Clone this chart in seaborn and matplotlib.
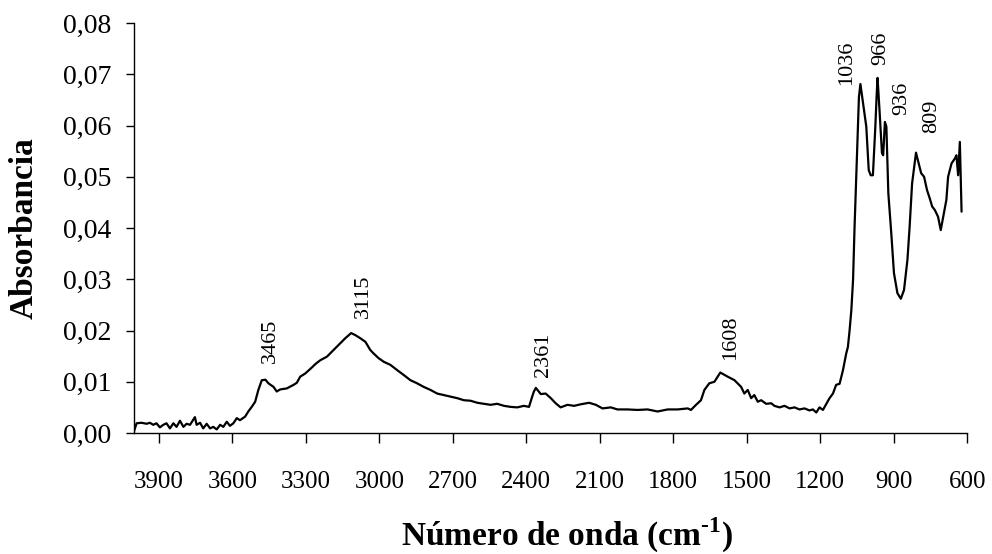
import matplotlib
matplotlib.use("Agg")
import matplotlib.pyplot as plt
from matplotlib.ticker import FuncFormatter, MultipleLocator
import seaborn as sns
import pandas as pd

# FTIR spectrum: wavenumber (cm-1) and absorbance
wavenumber = [
    4002, 3991, 3971, 3950, 3937, 3923, 3910, 3896, 3882, 3869, 3855, 3841,
    3828, 3814, 3800, 3787, 3773, 3753, 3746, 3732, 3719, 3705, 3691, 3678,
    3664, 3650, 3637, 3623, 3610, 3596, 3582, 3569, 3548, 3535, 3521, 3507,
    3494, 3480, 3465, 3453, 3432, 3419, 3405, 3378, 3350, 3337, 3323, 3303,
    3282, 3260, 3241, 3214, 3187, 3160, 3139, 3115, 3098, 3078, 3057, 3037,
    3023, 3003, 2982, 2955, 2928, 2900, 2873, 2846, 2819, 2791, 2764, 2737,
    2710, 2682, 2655, 2628, 2600, 2573, 2546, 2519, 2491, 2464, 2437, 2410,
    2389, 2376, 2369, 2361, 2341, 2321, 2300, 2280, 2260, 2232, 2205, 2178,
    2144, 2116, 2089, 2055, 2028, 1987, 1946, 1905, 1864, 1823, 1782, 1741,
    1728, 1707, 1687, 1673, 1653, 1632, 1608, 1578, 1550, 1523, 1510, 1496,
    1482, 1469, 1455, 1441, 1421, 1400, 1387, 1366, 1346, 1325, 1305, 1285,
    1264, 1244, 1230, 1216, 1203, 1189, 1175, 1162, 1148, 1135, 1121, 1107,
    1094, 1087, 1080, 1073, 1066, 1060, 1046, 1042, 1036, 1027, 1012, 1002,
    994, 985, 975, 970, 966, 958, 948, 943, 936, 930, 922, 910, 899, 885,
    871, 858, 844, 835, 825, 818, 809, 798, 788, 776, 764, 753, 743, 732,
    719, 708, 698, 685, 678, 664, 650, 644, 637, 630, 623,
]
absorbance = [
    0.0003, 0.0019, 0.0020, 0.0018, 0.0020, 0.0016, 0.0019, 0.0011, 0.0016,
    0.0019, 0.0009, 0.0019, 0.0012, 0.0024, 0.0012, 0.0018, 0.0016, 0.0031,
    0.0016, 0.0020, 0.0009, 0.0018, 0.0009, 0.0012, 0.0007, 0.0016, 0.0012,
    0.0022, 0.0014, 0.0019, 0.0029, 0.0025, 0.0032, 0.0042, 0.0051, 0.0061,
    0.0084, 0.0103, 0.0104, 0.0097, 0.0090, 0.0081, 0.0085, 0.0087, 0.0094,
    0.0098, 0.0110, 0.0116, 0.0125, 0.0135, 0.0142, 0.0149, 0.0162, 0.0175,
    0.0185, 0.0195, 0.0191, 0.0185, 0.0178, 0.0162, 0.0155, 0.0146, 0.0139,
    0.0133, 0.0123, 0.0113, 0.0103, 0.0097, 0.0090, 0.0084, 0.0077, 0.0074,
    0.0071, 0.0068, 0.0064, 0.0063, 0.0059, 0.0057, 0.0055, 0.0057, 0.0053,
    0.0051, 0.0050, 0.0053, 0.0051, 0.0071, 0.0081, 0.0088, 0.0076, 0.0077,
    0.0068, 0.0058, 0.0050, 0.0055, 0.0053, 0.0056, 0.0059, 0.0055, 0.0048,
    0.0050, 0.0046, 0.0046, 0.0045, 0.0046, 0.0042, 0.0046, 0.0046, 0.0048,
    0.0045, 0.0055, 0.0064, 0.0084, 0.0097, 0.0100, 0.0118, 0.0110, 0.0103,
    0.0090, 0.0077, 0.0084, 0.0068, 0.0074, 0.0061, 0.0064, 0.0057, 0.0058,
    0.0053, 0.0050, 0.0053, 0.0048, 0.0050, 0.0046, 0.0048, 0.0044, 0.0046,
    0.0040, 0.0050, 0.0045, 0.0057, 0.0068, 0.0077, 0.0094, 0.0096, 0.0123,
    0.0155, 0.0168, 0.0201, 0.0240, 0.0299, 0.0400, 0.0598, 0.0656, 0.0681,
    0.0650, 0.0598, 0.0513, 0.0503, 0.0503, 0.0598, 0.0656, 0.0693, 0.0630,
    0.0546, 0.0542, 0.0607, 0.0598, 0.0468, 0.0390, 0.0312, 0.0273, 0.0262,
    0.0279, 0.0338, 0.0403, 0.0487, 0.0513, 0.0547, 0.0526, 0.0507, 0.0500,
    0.0474, 0.0458, 0.0442, 0.0435, 0.0422, 0.0396, 0.0422, 0.0455, 0.0500,
    0.0526, 0.0536, 0.0542, 0.0503, 0.0568, 0.0432,
]

# Band assignments written above the peaks
peak_labels = ["3465", "3115", "2361", "1608", "1036", "966", "936", "809"]
label_wn = [3446, 3065, 2329, 1564, 1094, 951, 869, 746]
label_abs = [0.0137, 0.0224, 0.0109, 0.0142, 0.0679, 0.0718, 0.0620, 0.0585]

x_ticks = [3900, 3600, 3300, 3000, 2700, 2400, 2100, 1800, 1500, 1200, 900, 600]

sns.set_theme(style="ticks")
plt.rcParams["font.family"] = ["Liberation Serif", "DejaVu Serif"]
plt.rcParams["mathtext.fontset"] = "custom"
plt.rcParams["mathtext.rm"] = "Liberation Serif"
plt.rcParams["mathtext.bf"] = "Liberation Serif:bold"

df = pd.DataFrame({"wn": wavenumber, "abs": absorbance})

fig = plt.figure(figsize=(9.92, 5.54), dpi=100)
ax = fig.add_axes([0.135, 0.2184, 0.840, 0.7400])

sns.lineplot(data=df, x="wn", y="abs", estimator=None, sort=False,
             color="black", linewidth=1.6, ax=ax)

ax.set_xlim(4002, 600)
ax.set_ylim(0, 0.08)
ax.set_xticks(x_ticks)
ax.yaxis.set_major_locator(MultipleLocator(0.01))
ax.yaxis.set_major_formatter(FuncFormatter(lambda v, _: f"{v:.2f}".replace(".", ",")))

for s in ("top", "right"):
    ax.spines[s].set_visible(False)
for s in ("left", "bottom"):
    ax.spines[s].set_color("black")
    ax.spines[s].set_linewidth(1.0)

ax.tick_params(axis="x", direction="out", length=7, width=1, color="black",
               labelsize=18, pad=20, labelcolor="black")
ax.tick_params(axis="y", direction="out", length=6, width=1, color="black",
               labelsize=20, pad=10, labelcolor="black")

for txt, xw, ya in zip(peak_labels, label_wn, label_abs):
    ax.text(xw, ya, txt, rotation=90, ha="center", va="bottom",
            fontsize=16, color="black")

ax.set_xlabel("Número de onda (cm$^{\\mathbf{\u2010}\\mathbf{1}}$)", fontsize=24,
              fontweight="bold", color="black")
ax.set_ylabel("Absorbancia", fontsize=24, fontweight="bold", color="black")
ax.xaxis.set_label_coords(0.52, -0.203)
ax.yaxis.set_label_coords(-0.113, 0.5)

fig.savefig("out.png", dpi=100)
